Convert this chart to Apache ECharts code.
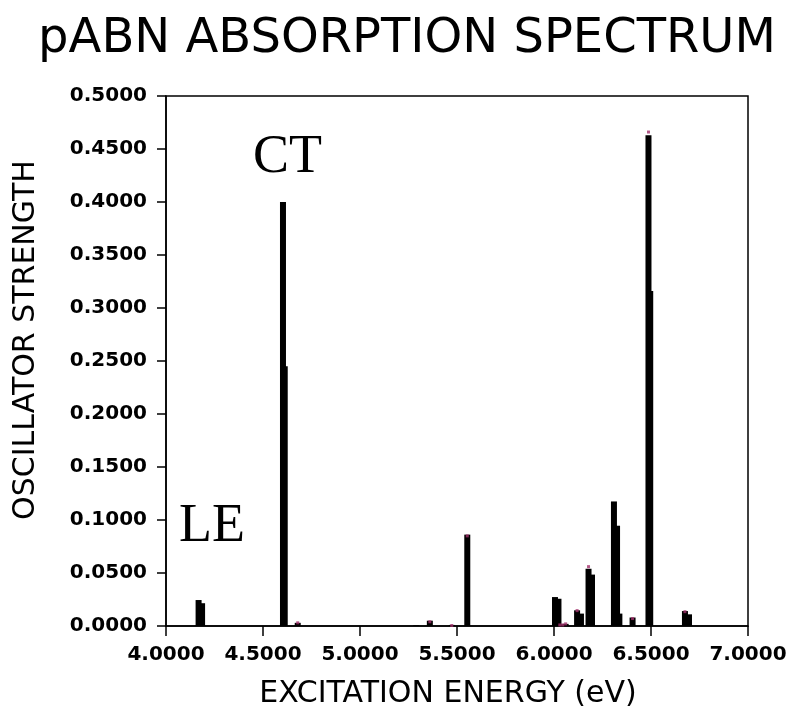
<!DOCTYPE html>
<html>
<head>
<meta charset="utf-8">
<script src="https://cdn.jsdelivr.net/npm/echarts@6/dist/echarts.min.js"></script>
<style>
  html, body { margin: 0; padding: 0; background: #fff; }
  #chart { width: 791px; height: 722px; }
</style>
</head>
<body>
<div id="chart"></div>
<script>
/* stick spectrum values (eV, oscillator strength) */
var energies = [4.168, 4.186, 4.603, 4.612, 4.679, 5.29, 5.36, 5.473, 5.553,
                6.005, 6.023, 6.04, 6.06, 6.119, 6.139, 6.178, 6.196,
                6.309, 6.325, 6.337, 6.405, 6.487, 6.496, 6.675, 6.696];
var strengths = [0.0245, 0.0215, 0.400, 0.245, 0.003, 0.0008, 0.005, 0.001, 0.0862,
                 0.0273, 0.0257, 0.0015, 0.002, 0.0148, 0.0117, 0.054, 0.0485,
                 0.1175, 0.0946, 0.0117, 0.008, 0.463, 0.316, 0.0141, 0.011];

/* little pink point marks sitting on some of the sticks */
var markEnergies = [4.679, 5.36, 5.473, 5.553, 6.03, 6.045, 6.06, 6.119, 6.178, 6.405, 6.487, 6.675];
var markStrengths = [0.003, 0.004, 0.0005, 0.085, 0.001, 0.001, 0.002, 0.0145, 0.056, 0.007, 0.466, 0.0135];

var chartTitle = 'pABN ABSORPTION SPECTRUM';
var xName = 'EXCITATION ENERGY (eV)';
var yName = 'OSCILLATOR STRENGTH';

function pairs(xs, ys) {
    var out = [];
    for (var i = 0; i < xs.length; i++) {
        out.push([xs[i], ys[i]]);
    }
    return out;
}

var myChart = echarts.init(document.getElementById('chart'), null, {renderer: 'canvas'});
var option = {
    backgroundColor: '#fff',
    animation: false,
    grid: {
        left: 166, right: 43, top: 96, bottom: 96,
        show: true, borderColor: '#000', borderWidth: 1.5
    },
    xAxis: {
        type: 'value',
        min: 4, max: 7, interval: 0.5,
        splitLine: {show: false},
        axisLine: {onZero: true, lineStyle: {color: '#000', width: 1.5}},
        axisTick: {length: 10, lineStyle: {color: '#000', width: 1.5}},
        axisLabel: {
            margin: 19, color: '#000',
            fontFamily: 'DejaVu Sans', fontWeight: 'bold', fontSize: 20,
            formatter: function (v) { return v.toFixed(4); }
        }
    },
    yAxis: {
        type: 'value',
        min: 0, max: 0.5, interval: 0.05,
        splitLine: {show: false},
        axisLine: {lineStyle: {color: '#000', width: 1.5}},
        axisTick: {length: 9, lineStyle: {color: '#000', width: 1.5}},
        axisLabel: {
            margin: 19, color: '#000',
            fontFamily: 'DejaVu Sans', fontWeight: 'bold', fontSize: 20,
            formatter: function (v) { return v.toFixed(4); }
        }
    },
    series: [
        {
            type: 'bar',
            data: pairs(energies, strengths),
            barWidth: 6,
            itemStyle: {color: '#000'}
        },
        {
            type: 'scatter',
            data: pairs(markEnergies, markStrengths),
            symbol: 'rect',
            symbolSize: 3,
            itemStyle: {color: '#a0306a'},
            z: 3
        }
    ],
    graphic: [
        {
            type: 'text', x: 407, y: 40,
            style: {text: chartTitle, font: '48px "DejaVu Sans"', fill: '#000',
                    textAlign: 'center', textVerticalAlign: 'middle'}
        },
        {
            type: 'text', x: 448, y: 694,
            style: {text: xName, font: '30px "DejaVu Sans"', fill: '#000',
                    textAlign: 'center', textVerticalAlign: 'middle'}
        },
        {
            type: 'text', x: 26, y: 340, rotation: Math.PI / 2,
            style: {text: yName, font: '30px "DejaVu Sans"', fill: '#000',
                    textAlign: 'center', textVerticalAlign: 'middle'}
        },
        {
            type: 'text', x: 253, y: 158,
            style: {text: 'CT', font: '54px "Liberation Serif"', fill: '#000',
                    textAlign: 'left', textVerticalAlign: 'middle'}
        },
        {
            type: 'text', x: 179, y: 527,
            style: {text: 'LE', font: '54px "Liberation Serif"', fill: '#000',
                    textAlign: 'left', textVerticalAlign: 'middle'}
        }
    ]
};
myChart.setOption(option);
</script>
</body>
</html>
